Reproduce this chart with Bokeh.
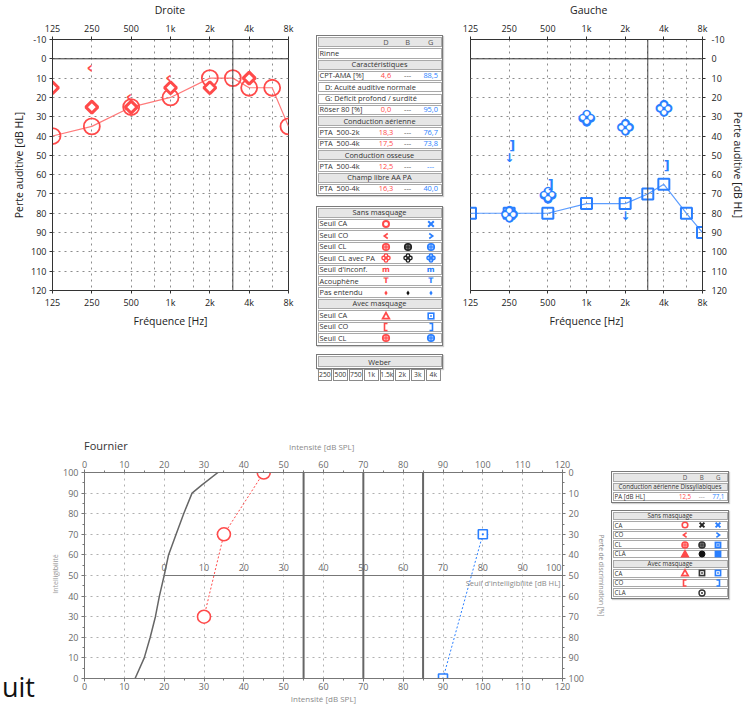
import math
import html as H
from bokeh.plotting import figure
from bokeh.models import Range1d, FixedTicker, LinearAxis, LogAxis, Span, Label, LabelSet, ColumnDataSource, Div
from bokeh.layouts import row, column
from bokeh.embed import file_html
from bokeh.resources import INLINE
from bokeh.core.properties import value

RED = "#ff4a4a"
RED_LINE = "#ff7b7b"
BLUE = "#2a7fff"
BLUE_LINE = "#5c9dff"
GRAYBG = "#e6e6e6"
FONT = "Open Sans"
SYM = "DejaVu Sans"

# ---------------- audiogram data ----------------
freq_ticks = [125, 250, 500, 1000, 2000, 4000, 8000]
freq_labels = ["125", "250", "500", "1k", "2k", "4k", "8k"]
freq_half = [750, 1500, 3000, 6000]
freq_dark = [3000]
db_ticks = list(range(-10, 121, 10))

air_freqs = [125, 250, 500, 1000, 2000, 3000, 4000, 6000, 8000]
droite_ca = [40, 35, 25, 20, 10, 10, 15, 15, 35]
droite_clpa_freqs = [125, 250, 500, 1000, 2000, 4000]
droite_clpa = [15, 25, 25, 15, 15, 10]
droite_co_freqs = [250, 500, 1000]
droite_co = [5, 20, 10]

gauche_ca_masq = [80, 80, 80, 75, 75, 70, 65, 80, 90]
gauche_clpa_freqs = [250, 500, 1000, 2000, 4000]
gauche_clpa = [80, 70, 30, 35, 25]
gauche_co_masq_freqs = [250, 500, 4000]
gauche_co_masq = [45, 65, 55]
gauche_nh_freqs = [250, 2000]
gauche_nh = [45, 75]

# ---------------- Fournier data ----------------
intensity_ticks = list(range(0, 121, 10))
intensity_minor = list(range(0, 121, 5))
percent_ticks = list(range(0, 101, 10))
percent_minor = list(range(0, 101, 5))
hl_ticks = list(range(0, 101, 10))
hl_offset = 20
norm_intensity = [12.7, 15, 16.5, 17.8, 18.8, 20, 21.1, 23, 24.9, 27, 29.5, 33.5]
norm_score = [0, 10, 20, 30, 40, 50, 60, 70, 80, 90, 94, 100]
fd_intensity = [30, 35, 45]
fd_score = [30, 70, 100]
fg_intensity = [90, 100]
fg_score = [0, 70]
fournier_marks = [55, 70, 85]

# ---------------- tables ----------------
t1_kinds = ["header", "data", "section", "data", "note", "note", "data", "section",
            "data", "data", "section", "data", "section", "data"]
t1_labels = ["", "Rinne", "Caractéristiques", "CPT-AMA [%]", "D: Acuité auditive normale",
             "G: Déficit profond / surdité", "Röser 80 [%]", "Conduction aérienne",
             "PTA&nbsp; 500-2k", "PTA&nbsp; 500-4k", "Conduction osseuse", "PTA&nbsp; 500-4k",
             "Champ libre AA PA", "PTA&nbsp; 500-4k"]
t1_d = ["D", "", "", "4,6", "", "", "0,0", "", "18,3", "17,5", "", "12,5", "", "16,3"]
t1_b = ["B", "", "", "---", "", "", "---", "", "---", "---", "", "---", "", "---"]
t1_g = ["G", "", "", "88,5", "", "", "95,0", "", "76,7", "73,8", "", "---", "", "40,0"]

t2_kinds = ["section", "data", "data", "data", "data", "data", "data", "data",
            "section", "data", "data", "data"]
t2_labels = ["Sans masquage", "Seuil CA", "Seuil CO", "Seuil CL", "Seuil CL avec PA",
             "Seuil d'inconf.", "Acouphène", "Pas entendu", "Avec masquage",
             "Seuil CA", "Seuil CO", "Seuil CL"]

weber_freqs = ["250", "500", "750", "1k", "1.5k", "2k", "3k", "4k"]

f1_kinds = ["header", "section", "data"]
f1_labels = ["", "Conduction aérienne Dissyllabiques", "PA [dB HL]"]
f1_d = ["D", "", "12,5"]
f1_b = ["B", "", "---"]
f1_g = ["G", "", "77,1"]

f2_kinds = ["section", "data", "data", "data", "data", "section", "data", "data", "data"]
f2_labels = ["Sans masquage", "CA", "CO", "CL", "CLA", "Avec masquage", "CA", "CO", "CLA"]


def style_axis(ax, fsize="9px", color="#222", lsize="10.5px", lcolor="#222", line="#333"):
    ax.major_label_text_font = FONT
    ax.major_label_text_font_size = fsize
    ax.major_label_text_color = color
    ax.axis_label_text_font = FONT
    ax.axis_label_text_font_size = lsize
    ax.axis_label_text_font_style = "normal"
    ax.axis_label_text_color = lcolor
    ax.axis_line_color = line
    ax.major_tick_line_color = line
    ax.major_tick_out = 3
    ax.major_tick_in = 0
    ax.minor_tick_line_color = None
    ax.major_label_standoff = 2
    ax.axis_label_standoff = 2


def audiogram(side, width, bl, br):
    p = figure(width=width, height=380, x_axis_type="log",
               x_range=Range1d(125, 8000), y_range=Range1d(120, -10),
               y_axis_location=side, output_backend="svg", toolbar_location=None,
               min_border_left=bl, min_border_right=br, min_border_top=18, min_border_bottom=108)
    p.add_layout(LogAxis(), "above")
    overrides = {f: l for f, l in zip(freq_ticks, freq_labels)}
    for ax in list(p.below) + list(p.above):
        ax.ticker = FixedTicker(ticks=freq_ticks)
        ax.major_label_overrides = overrides
        style_axis(ax)
    p.below[0].axis_label = "Fréquence [Hz]"
    yax = p.yaxis[0]
    yax.ticker = FixedTicker(ticks=db_ticks)
    yax.major_label_overrides = {t: str(t) for t in db_ticks}
    style_axis(yax)
    yax.axis_label = "Perte auditive [dB HL]"
    if side == "left":
        yax.major_label_standoff = 3
        yax.axis_label_standoff = 2
    else:
        yax.major_label_standoff = 6
        yax.axis_label_standoff = 1
    p.xgrid.ticker = FixedTicker(ticks=freq_ticks + freq_half)
    p.ygrid.ticker = FixedTicker(ticks=db_ticks)
    for g in (p.xgrid[0], p.ygrid[0]):
        g.grid_line_color = "#8c8c8c"
        g.grid_line_dash = "dotted"
        g.grid_line_width = 1
    for f in freq_dark:
        p.add_layout(Span(location=f, dimension="height", line_color="#444", line_width=1))
    p.add_layout(Span(location=0, dimension="width", line_color="#333", line_width=1))
    p.outline_line_color = "#333"
    return p


# ---------- Droite ----------
pd = audiogram("left", 310, 52, 22)
pd.line(air_freqs, droite_ca, line_color=RED_LINE, line_width=1.2)
pd.scatter(air_freqs, droite_ca, marker="circle", size=16, line_color=RED, line_width=1.8,
           fill_color=None)
pd.scatter(droite_clpa_freqs, droite_clpa, marker="square", angle=math.pi / 4, size=8.5,
           line_color=RED, line_width=3, fill_color="white")
pd.text(droite_co_freqs, droite_co, text=["‹"] * len(droite_co), text_color=RED,
        text_font=value(SYM), text_font_size=value("16px"), text_font_style="bold",
        text_align="center", text_baseline="middle", x_offset=-2, y_offset=-1)

# ---------- Gauche ----------
pg = audiogram("right", 297, 20, 41)
pg.line(air_freqs, gauche_ca_masq, line_color=BLUE_LINE, line_width=1.2)
pg.scatter(air_freqs, gauche_ca_masq, marker="square", size=11, line_color=BLUE,
           line_width=2, fill_color=None)
for ch, fs, col in [("●", "11.5px", BLUE), ("●", "6px", "white")]:
    for dx, dy in [(-4, 0), (4, 0), (0, -4), (0, 4)]:
        pg.text(gauche_clpa_freqs, gauche_clpa, text=[ch] * len(gauche_clpa), text_color=col,
                text_font=value(SYM), text_font_size=value(fs),
                text_align="center", text_baseline="middle", x_offset=dx, y_offset=dy)
pg.text(gauche_co_masq_freqs, gauche_co_masq, text=["]"] * len(gauche_co_masq),
        text_color=BLUE, text_font=value(SYM), text_font_size=value("13px"),
        text_font_style="bold", text_align="left", text_baseline="middle", x_offset=0)
pg.text(gauche_nh_freqs, gauche_nh, text=["↓"] * len(gauche_nh), text_color=BLUE,
        text_font=value(SYM), text_font_size=value("12px"), text_font_style="bold",
        text_align="center", text_baseline="top", y_offset=5)

# ---------- Fournier ----------
pf = figure(width=550, height=255, x_range=Range1d(0, 120), y_range=Range1d(0, 100),
            output_backend="svg", toolbar_location=None,
            min_border_left=23, min_border_right=48, min_border_top=20, min_border_bottom=29)
pf.add_layout(LinearAxis(), "above")
pf.add_layout(LinearAxis(), "right")
for ax in list(pf.below) + list(pf.above):
    ax.ticker = FixedTicker(ticks=intensity_ticks, minor_ticks=intensity_minor)
for ax in list(pf.left) + list(pf.right):
    ax.ticker = FixedTicker(ticks=percent_ticks, minor_ticks=percent_minor)
for ax in list(pf.below) + list(pf.above) + list(pf.left) + list(pf.right):
    style_axis(ax, fsize="9px", color="#6a6a6a", lsize="8px", lcolor="#8a8a8a", line="#777")
    ax.minor_tick_line_color = "#777"
    ax.minor_tick_out = 2
    ax.major_tick_out = 3
for ax in list(pf.left) + list(pf.right):
    ax.major_label_standoff = 3
pf.below[0].major_label_standoff = 1
pf.below[0].axis_label = "Intensité [dB SPL]"
pf.below[0].axis_label_standoff = 0
ax_r = pf.right[0]
ax_r.major_label_overrides = {v: str(100 - v) for v in percent_ticks}
ax_r.axis_label = "Perte de discrimination [%]"
ax_r.axis_label_text_font_size = "6.5px"
ax_r.axis_label_standoff = 10
pf.xgrid.ticker = FixedTicker(ticks=intensity_ticks)
pf.ygrid.ticker = FixedTicker(ticks=percent_ticks)
for g in (pf.xgrid[0], pf.ygrid[0]):
    g.grid_line_color = "#b0b0b0"
    g.grid_line_dash = "dotted"
pf.outline_line_color = "#777"
for v in fournier_marks:
    pf.add_layout(Span(location=v, dimension="height", line_color="#666", line_width=2))
pf.line(norm_intensity, norm_score, line_color="#666", line_width=1.5)
# HL scale drawn across the middle of the chart
pf.line([hl_ticks[0] + hl_offset, hl_ticks[-1] + hl_offset], [50, 50], line_color="#777", line_width=1.2)
hl_src = ColumnDataSource(dict(x=[h + hl_offset for h in hl_ticks[:-1]], y=[50] * (len(hl_ticks) - 1),
                               t=[str(h) for h in hl_ticks[:-1]]))
pf.add_layout(LabelSet(x="x", y="y", text="t", source=hl_src, y_offset=8.5,
                       text_align="center", text_baseline="middle",
                       text_font=value(FONT), text_font_size=value("9px"),
                       text_color=value("#6a6a6a")))
pf.add_layout(Label(x=hl_ticks[-1] + hl_offset, y=50, y_offset=8.5, x_offset=-1, text=str(hl_ticks[-1]),
                    text_align="right", text_baseline="middle", text_font=FONT,
                    text_font_size="9px", text_color="#6a6a6a"))
pf.add_layout(Label(x=120, y=50, y_offset=-7.5, x_offset=-2, text="Seuil d'intelligibilité [dB HL]",
                    text_align="right", text_baseline="middle", text_font=FONT,
                    text_font_size="7.5px", text_color="#888"))
pf.line(fd_intensity, fd_score, line_color=RED, line_width=1, line_dash="2 2")
pf.scatter(fd_intensity, fd_score, marker="circle", size=13, line_color=RED, line_width=1.6, fill_color="white")
pf.line(fg_intensity, fg_score, line_color=BLUE, line_width=1, line_dash="2 2")
pf.scatter(fg_intensity, fg_score, marker="square_dot", size=9, line_color=BLUE, line_width=1.6, fill_color="white")


# ---------- HTML helpers for the tables ----------
def box(l, t, w, h, extra=""):
    return (f'<div style="position:absolute;left:{l:.1f}px;top:{t:.1f}px;width:{w:.1f}px;'
            f'height:{h:.1f}px;box-sizing:border-box;{extra}"></div>')


def txt(l, t, w, h, s, size, color, align="left", extra=""):
    return (f'<div style="position:absolute;left:{l:.1f}px;top:{t:.1f}px;width:{w:.1f}px;'
            f'height:{h:.1f}px;line-height:{h:.1f}px;font-size:{size}px;color:{color};'
            f'text-align:{align};white-space:nowrap;font-family:\'Open Sans\';{extra}">{s}</div>')


def esc(s):
    return s if "&nbsp;" in s else H.escape(s)


def html_rows(x0, x1, ytop, rh, kinds, labels, fsize, note_dx=9):
    n = len(kinds)
    parts = [box(x0, ytop - 1.5, x1 - x0, n * rh + 3,
                 "border:1px solid #7a7a7a;background:#fff;box-shadow:1px 1px 1px #cfcfcf")]
    for i, (k, lab) in enumerate(zip(kinds, labels)):
        top = ytop + i * rh
        bg = GRAYBG if k in ("section", "header") else "#fff"
        parts.append(box(x0 + 1.5, top + 0.5, x1 - x0 - 3, rh - 1,
                         f"border:1px solid #a9a9a9;background:{bg}"))
        if not lab:
            continue
        if k == "section":
            parts.append(txt(x0, top, x1 - x0, rh, esc(lab), fsize, "#333", "center"))
        elif k == "note":
            parts.append(txt(x0 + note_dx, top, x1 - x0 - note_dx, rh, esc(lab), fsize, "#333"))
        else:
            parts.append(txt(x0 + 3.5, top, 90, rh, esc(lab), fsize, "#333"))
    mids = [ytop + (i + 0.5) * rh for i in range(n)]
    return parts, mids


def html_vals(xc, ytop, rh, vals, colors, fsize):
    parts = []
    for i, (v, c) in enumerate(zip(vals, colors)):
        if v:
            parts.append(txt(xc - 15, ytop + i * rh, 30, rh, H.escape(v), fsize, c, "center"))
    return parts


def svg(cx, cy, inner, size=14):
    h = size / 2
    return (f'<svg style="position:absolute;left:{cx - h:.1f}px;top:{cy - h:.1f}px;overflow:visible" '
            f'width="{size}" height="{size}" viewBox="{-h} {-h} {size} {size}">{inner}</svg>')


def ring(c, r=3, sw=1.8, fill="none"):
    return f'<circle r="{r}" fill="{fill}" stroke="{c}" stroke-width="{sw}"/>'


def xmark(c, s=2.8, sw=2):
    return f'<path d="M{-s},{-s}L{s},{s}M{-s},{s}L{s},{-s}" stroke="{c}" stroke-width="{sw}" fill="none"/>'


def chev(c, left=True, s=2.5):
    d = f"M{s * 0.7},{-s}L{-s * 0.7},0L{s * 0.7},{s}" if left else f"M{-s * 0.7},{-s}L{s * 0.7},0L{-s * 0.7},{s}"
    return f'<path d="{d}" stroke="{c}" stroke-width="1.6" fill="none"/>'


def hatched(c, fill, r=3.3):
    return (ring(c, r, 1.6, fill) +
            f'<path d="M{-r},0H{r}M0,{-r}V{r}" stroke="{c}" stroke-width="1"/>')


def quad_rings(c, fill="#fff", d=2.4, r=1.7):
    return "".join(f'<circle cx="{x}" cy="{y}" r="{r}" fill="{fill}" stroke="{c}" stroke-width="1.4"/>'
                   for x, y in [(-d, 0), (d, 0), (0, -d), (0, d)])


def tri(c, fill="none", s=3.4):
    return f'<path d="M0,{-s}L{s},{s * 0.8}L{-s},{s * 0.8}Z" fill="{fill}" stroke="{c}" stroke-width="1.7"/>'


def sq(c, fill="none", s=2.8, dot=True):
    out = f'<rect x="{-s}" y="{-s}" width="{2 * s}" height="{2 * s}" fill="{fill}" stroke="{c}" stroke-width="1.6"/>'
    if dot:
        out += f'<rect x="-0.8" y="-0.8" width="1.6" height="1.6" fill="{c}"/>'
    return out


def bracket(c, left=True, s=3.5):
    d = f"M1.5,{-s}H-1.5V{s}H1.5" if left else f"M-1.5,{-s}H1.5V{s}H-1.5"
    return f'<path d="{d}" stroke="{c}" stroke-width="1.6" fill="none"/>'


def small_diamond(c):
    return f'<path d="M0,-2.6L1.6,0L0,2.6L-1.6,0Z" fill="{c}"/>'


def glyph_txt(cx, cy, s, c, size=7.5):
    return txt(cx - 6, cy - 5, 12, 10, s, size, c, "center", "font-weight:bold;font-family:'DejaVu Sans';")


# ---------- middle tables (Div origin = page (310, 18)) ----------
OX, OY = 310, 18
XD, XB, XG = 386 - OX, 407.7 - OX, 430.7 - OX
mid = []
p1, m1 = html_rows(316 - OX, 443 - OX, 36.5 - OY, 11.3, t1_kinds, t1_labels, 7.4)
mid += p1
mid += html_vals(XD, 36.5 - OY, 11.3, t1_d, ["#555"] + [RED] * (len(t1_d) - 1), 7.4)
mid += html_vals(XB, 36.5 - OY, 11.3, t1_b, ["#555"] * len(t1_b), 7.4)
mid += html_vals(XG, 36.5 - OY, 11.3, t1_g, ["#555"] + [BLUE] * (len(t1_g) - 1), 7.4)

p2, m2 = html_rows(316 - OX, 443 - OX, 207 - OY, 11.42, t2_kinds, t2_labels, 7.4)
mid += p2
mid += [svg(XD, m2[1], ring(RED, 3, 2)), svg(XG, m2[1], xmark(BLUE))]
mid += [svg(XD, m2[2], chev(RED, True)), svg(XG, m2[2], chev(BLUE, False))]
mid += [svg(XD, m2[3], hatched(RED, "#ffb0b0")), svg(XB, m2[3], hatched("#222", "#777")),
        svg(XG, m2[3], hatched(BLUE, "#9cc3ff"))]
mid += [svg(XD, m2[4], quad_rings(RED)), svg(XB, m2[4], quad_rings("#222")),
        svg(XG, m2[4], quad_rings(BLUE, "#9cc3ff"))]
mid += [glyph_txt(XD, m2[5], "m", RED), glyph_txt(XG, m2[5], "m", BLUE)]
mid += [glyph_txt(XD, m2[6], "T", RED), glyph_txt(XG, m2[6], "T", BLUE)]
mid += [svg(XD, m2[7], small_diamond(RED)), svg(XB, m2[7], small_diamond("#111")),
        svg(XG, m2[7], small_diamond(BLUE))]
mid += [svg(XD, m2[9], tri(RED)), svg(XG, m2[9], sq(BLUE))]
mid += [svg(XD, m2[10], bracket(RED, True)), svg(XG, m2[10], bracket(BLUE, False))]
mid += [svg(XD, m2[11], hatched(RED, "#ffb0b0")), svg(XG, m2[11], hatched(BLUE, "#9cc3ff"))]

pw, mw = html_rows(316 - OX, 443 - OX, 355.5 - OY, 12, ["section"], ["Weber"], 7.4)
mid += pw
nW = len(weber_freqs)
cw = (443 - 316 - 3) / nW
for i, wf in enumerate(weber_freqs):
    l = 317.5 - OX + i * cw
    mid.append(box(l, 368.5 - OY, cw - 0.8, 12.5, "border:1px solid #8a8a8a;background:#fff"))
    mid.append(txt(l, 368.5 - OY, cw - 0.8, 12.5, wf, 6.8, "#333", "center"))

div_mid = Div(text='<div style="position:relative;width:140px;height:380px;overflow:hidden;background:#fff">'
              + "".join(mid) + "</div>", width=140, height=380, margin=(0, 0, 0, 0))

# ---------- Fournier legend (Div origin = page (610, 452)) ----------
LX, LY = 610, 452
FD, FB, FG = 685 - LX, 701.7 - LX, 718.3 - LX
leg = []
q1, n1 = html_rows(611 - LX, 729 - LX, 472.5 - LY, 9.7, f1_kinds, f1_labels, 6.2)
leg += q1
leg += html_vals(FD, 472.5 - LY, 9.7, f1_d, ["#555", RED, RED], 6.2)
leg += html_vals(FB, 472.5 - LY, 9.7, f1_b, ["#555", "#999", "#999"], 6.2)
leg += html_vals(FG, 472.5 - LY, 9.7, f1_g, ["#555", BLUE, BLUE], 6.2)
q2, n2 = html_rows(611 - LX, 729 - LX, 511 - LY, 9.6, f2_kinds, f2_labels, 6.2)
leg += q2
leg += [svg(FD, n2[1], ring(RED, 2.8, 1.6)), svg(FB, n2[1], xmark("#222", 2.4)),
        svg(FG, n2[1], xmark(BLUE, 2.4))]
leg += [svg(FD, n2[2], chev(RED, True, 2.3)), svg(FG, n2[2], chev(BLUE, False, 2.3))]
leg += [svg(FD, n2[3], hatched(RED, "#ffb0b0", 3)), svg(FB, n2[3], hatched("#333", "#888", 3)),
        svg(FG, n2[3], sq(BLUE, "#9cc3ff", 2.6))]
leg += [svg(FD, n2[4], tri(RED, RED, 3.2)), svg(FB, n2[4], ring("#111", 3, 1, "#111")),
        svg(FG, n2[4], sq(BLUE, BLUE, 2.6, False))]
leg += [svg(FD, n2[6], tri(RED, "none", 3.2)), svg(FB, n2[6], sq("#333", "none", 2.6)),
        svg(FG, n2[6], sq(BLUE, "none", 2.6))]
leg += [svg(FD, n2[7], bracket(RED, True, 3)), svg(FG, n2[7], bracket(BLUE, False, 3))]
leg += [svg(FB, n2[8], ring("#333", 3, 1.4) + '<circle r="1" fill="#333"/>')]

div_leg = Div(text='<div style="position:relative;width:137px;height:255px;overflow:hidden;background:#fff">'
              + "".join(leg) + "</div>", width=137, height=255, margin=(0, 0, 0, 0))

# ---------- left fragment of the lower page ----------
div_left = Div(text='<div style="position:relative;width:60px;height:255px;overflow:hidden;background:#fff">'
               + txt(2, 224, 58, 22, "uit", 27, "#111")
               + txt(26, 117, 60, 10, "Intelligibilité", 7, "#999", "center",
                     "transform:rotate(-90deg);")
               + "</div>", width=60, height=255, margin=(0, 0, 0, 0))

# ---------- title strips ----------
strip_top = Div(text='<div style="position:relative;width:747px;height:18px;overflow:hidden;background:#fff">'
                + txt(170 - 40, 3, 80, 14, "Droite", 10.5, "#222", "center")
                + txt(588.7 - 40, 3, 80, 14, "Gauche", 10.5, "#222", "center")
                + "</div>", width=747, height=18, margin=(0, 0, 0, 0))
strip_mid = Div(text='<div style="position:relative;width:747px;height:54px;overflow:hidden;background:#fff">'
                + txt(84, 41.5, 80, 12, "Fournier", 11, "#333")
                + txt(321.7 - 60, 43.5, 120, 10.5, "Intensité [dB SPL]", 8, "#8a8a8a", "center")
                + "</div>", width=747, height=54, margin=(0, 0, 0, 0))

layout = column(strip_top, row(pd, div_mid, pg), strip_mid, row(div_left, pf, div_leg))

open("out.html", "w").write(file_html(layout, INLINE))
